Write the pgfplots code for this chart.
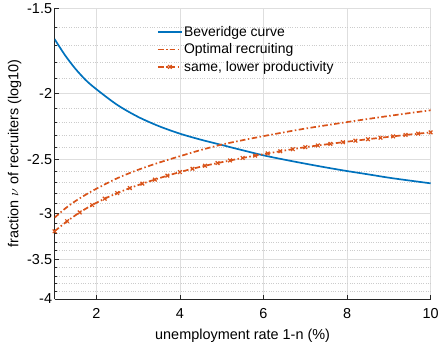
\documentclass[border=0pt]{standalone}
\usepackage{pgfplots}
\pgfplotsset{compat=1.18}
\usepackage{fontspec}
\setmainfont{Liberation Sans}

\definecolor{mblue}{rgb}{0,0.447,0.741}
\definecolor{morange}{rgb}{0.85,0.325,0.098}
\definecolor{axgray}{gray}{0.15}
\definecolor{gridgray}{gray}{0.87}

\begin{document}
\begin{tikzpicture}
\begin{axis}[
  scale only axis, width=378bp, height=292bp,
  xmin=1, xmax=10, ymin=-4, ymax=-1.5,
  % logarithmic scale for negative values
  y coord trafo/.code={\pgfmathparse{-ln(-#1)}},
  y coord inv trafo/.code={\pgfmathparse{-exp(-#1)}},
  axis x line*=bottom, axis y line*=left,
  axis line style={axgray, line width=0.6bp},
  xtick={2,4,6,8,10}, xticklabels={2,4,6,8,10},
  ytick={-4,-3.5,-3,-2.5,-2,-1.5},
  yticklabels={-4,-3.5,-3,-2.5,-2,-1.5},
  minor ytick={-3.9,-3.8,-3.7,-3.6,-3.4,-3.3,-3.2,-3.1,-2.9,-2.8,-2.7,-2.6,-2.4,-2.3,-2.2,-2.1,-1.9,-1.8,-1.7,-1.6},
  tick align=inside, major tick length=4bp, minor tick length=2.5bp,
  tick style={axgray, line width=0.5bp},
  xmajorgrids, ymajorgrids, yminorgrids,
  major grid style={gridgray, line width=0.6bp},
  minor grid style={gray!40, dotted, line width=0.5bp},
  tick label style={font=\fontsize{14.5bp}{16bp}\selectfont},
  xticklabel style={yshift=-6bp},
  yticklabel style={xshift=1bp},
  label style={font=\fontsize{14.5bp}{16bp}\selectfont},
  xlabel={unemployment rate 1-n (\%)},
  xlabel style={yshift=-4bp},
  ylabel={fraction $\nu$ of recruiters (log10)},
  ylabel style={at={(axis description cs:-0.106,0.5)}, anchor=center, inner ysep=8bp},
  legend cell align=left,
  legend style={at={(0.272,0.945)}, anchor=north west, draw=none, fill=none,
    font=\fontsize{14bp}{16bp}\selectfont, inner sep=0pt,
    nodes={inner sep=1.5bp}, row sep=3bp},
  legend image code/.code={%
    \draw[mark repeat=2,mark phase=2,#1] plot coordinates {(0bp,0bp) (12bp,0bp) (24bp,0bp)};},
  mdashdot/.style={dash pattern=on 5.5bp off 2.5bp on 1.5bp off 2.5bp},
]
\addplot[color=mblue, line width=1.7bp, smooth] coordinates {
  (1,-1.664) (1.25,-1.757) (1.5,-1.840) (1.75,-1.912) (2,-1.971)
  (2.5,-2.078) (3,-2.164) (3.5,-2.233) (4,-2.290) (4.5,-2.337)
  (5,-2.379) (5.5,-2.422) (6,-2.464) (6.5,-2.500) (7,-2.534)
  (7.5,-2.567) (8,-2.598) (8.5,-2.627) (9,-2.657) (9.5,-2.683) (10,-2.708)
};
\addlegendentry{Beveridge curve}
\addplot[color=morange, line width=1.7bp, smooth, mdashdot] coordinates {
  (1,-3.041) (1.25,-2.950) (1.5,-2.875) (1.75,-2.813) (2,-2.758)
  (2.5,-2.662) (3,-2.587) (3.5,-2.525) (4,-2.471) (4.5,-2.420)
  (5,-2.376) (5.5,-2.341) (6,-2.309) (6.5,-2.279) (7,-2.251)
  (7.5,-2.226) (8,-2.202) (8.5,-2.179) (9,-2.157) (9.5,-2.136) (10,-2.116)
};
\addlegendentry{Optimal recruiting}
\addplot[color=morange, line width=1.7bp, smooth, mdashdot,
  mark=x, mark size=2.6bp, mark options={solid, line width=1.2bp}] coordinates {
  (1.0,-3.184) (1.3,-3.078) (1.6,-2.988) (1.9,-2.914) (2.2,-2.852)
  (2.5,-2.799) (2.8,-2.752) (3.1,-2.711) (3.4,-2.674) (3.7,-2.639)
  (4.0,-2.607) (4.3,-2.578) (4.6,-2.552) (4.9,-2.529) (5.2,-2.507)
  (5.5,-2.486) (5.8,-2.466) (6.1,-2.448) (6.4,-2.430) (6.7,-2.413)
  (7.0,-2.397) (7.3,-2.383) (7.6,-2.370) (7.9,-2.357) (8.2,-2.345)
  (8.5,-2.333) (8.8,-2.322) (9.1,-2.311) (9.4,-2.300) (9.7,-2.290) (10.0,-2.280)
};
\addlegendentry{same, lower productivity}
\end{axis}
\end{tikzpicture}
\end{document}
